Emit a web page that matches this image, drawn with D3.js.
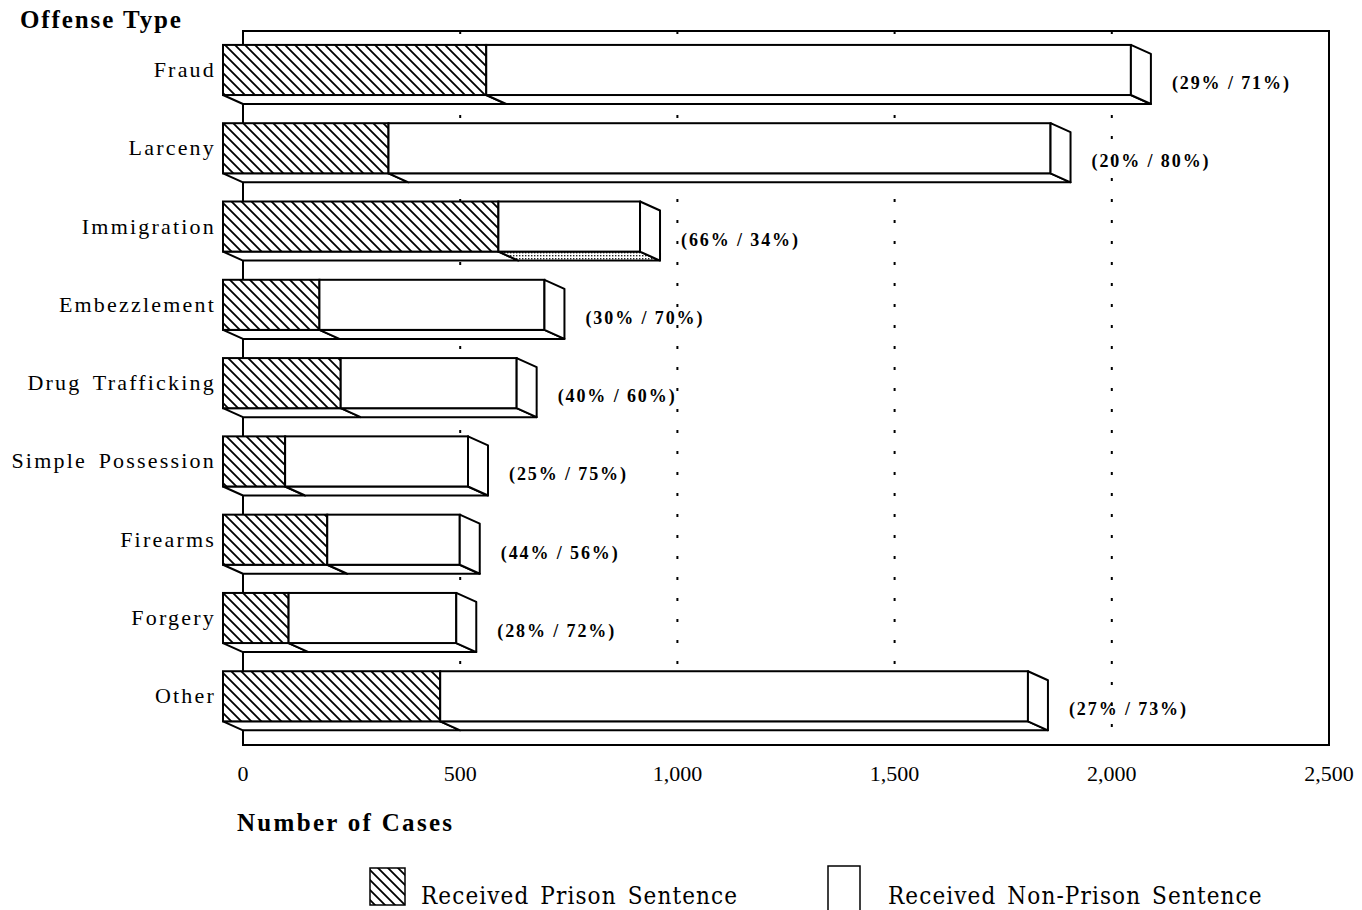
<!DOCTYPE html>
<html>
<head>
<meta charset="utf-8">
<script src="https://cdn.jsdelivr.net/npm/d3@7"></script>
<style>
  html, body { margin: 0; padding: 0; background: #fff; }
  svg { display: block; }
  text { font-family: "Liberation Serif", "Times New Roman", serif; fill: #000; }
</style>
</head>
<body>
<svg id="chart" width="1362" height="910"></svg>
<script>
// ---------------- data ----------------
const categories = ["Fraud", "Larceny", "Immigration", "Embezzlement", "Drug Trafficking",
                    "Simple Possession", "Firearms", "Forgery", "Other"];
const prisonCases    = [606, 381, 634, 222, 271, 143, 240, 151, 500];
const nonPrisonCases = [1484, 1524, 326, 518, 405, 421, 305, 386, 1353];
const shareLabels = ["(29% / 71%)", "(20% / 80%)", "(66% / 34%)", "(30% / 70%)", "(40% / 60%)",
                     "(25% / 75%)", "(44% / 56%)", "(28% / 72%)", "(27% / 73%)"];
const xTicks = [0, 500, 1000, 1500, 2000, 2500];
const seriesKeys = ["prison", "nonPrison"];
const seriesNames = ["Received Prison Sentence", "Received Non-Prison Sentence"];
const yTitle = "Offense Type";
const xTitle = "Number of Cases";

// ---------------- layout ----------------
const svg = d3.select("#chart");
const plot = { left: 243, right: 1329, top: 31, bottom: 745 };
const depth = { dx: 20, dy: 9 };

const x = d3.scaleLinear().domain([0, 2500]).range([plot.left, plot.right]);
const y = d3.scaleBand().domain(categories).range([plot.top, plot.bottom])
  .paddingInner(0.36).paddingOuter(0.24).align(0.61);
const bw = y.bandwidth();

const rows = categories.map((c, i) => ({ category: c, prison: prisonCases[i], nonPrison: nonPrisonCases[i], label: shareLabels[i] }));
const stacked = d3.stack().keys(seriesKeys)(rows);

// patterns
const defs = svg.append("defs");
const hatch = defs.append("pattern").attr("id", "hatch").attr("patternUnits", "userSpaceOnUse")
  .attr("width", 10).attr("height", 10);
hatch.append("rect").attr("width", 10).attr("height", 10).attr("fill", "#fff");
hatch.append("path").attr("d", "M-3,7 L3,13 M0,0 L10,10 M7,-3 L13,3")
  .attr("stroke", "#000").attr("stroke-width", 1.8);
const stipple = defs.append("pattern").attr("id", "stipple").attr("patternUnits", "userSpaceOnUse")
  .attr("width", 3).attr("height", 3);
stipple.append("rect").attr("width", 3).attr("height", 3).attr("fill", "#fff");
stipple.append("rect").attr("width", 1.4).attr("height", 1.4).attr("fill", "#222");
const stippleCategory = "Immigration";

// back wall
const wall = svg.append("g");
wall.append("path")
  .attr("d", `M${plot.left},${plot.bottom} L${plot.left},${plot.top} L${plot.right},${plot.top} L${plot.right},${plot.bottom} Z`)
  .attr("fill", "none").attr("stroke", "#000").attr("stroke-width", 2);

// dotted gridlines
wall.selectAll("line.grid").data(xTicks.filter(t => t > 0 && t < 2500)).enter().append("line")
  .attr("class", "grid")
  .attr("x1", d => x(d)).attr("x2", d => x(d))
  .attr("y1", plot.top).attr("y2", plot.bottom)
  .attr("stroke", "#000").attr("stroke-width", 2).attr("stroke-dasharray", "3,18");

// bars
const barG = svg.append("g");
const fillFor = key => key === "prison" ? "url(#hatch)" : "#fff";
stacked.forEach(series => {
  series.forEach(d => {
    const cat = d.data.category;
    const x0 = x(d[0]), x1 = x(d[1]);
    const yt = y(cat), yb = yt + bw;
    const bottomFill = (series.key === "nonPrison" && cat === stippleCategory) ? "url(#stipple)" : "#fff";
    barG.append("path")
      .attr("d", `M${x0 - depth.dx},${yb - depth.dy} L${x1 - depth.dx},${yb - depth.dy} L${x1},${yb} L${x0},${yb} Z`)
      .attr("fill", bottomFill).attr("stroke", "#000").attr("stroke-width", 2).attr("stroke-linejoin", "round");
    barG.append("rect")
      .attr("x", x0 - depth.dx).attr("y", yt - depth.dy)
      .attr("width", x1 - x0).attr("height", bw)
      .attr("fill", fillFor(series.key)).attr("stroke", "#000").attr("stroke-width", 2);
  });
});
rows.forEach(r => {
  const xr = x(r.prison + r.nonPrison);
  const yt = y(r.category), yb = yt + bw;
  barG.append("path")
    .attr("d", `M${xr - depth.dx},${yt - depth.dy} L${xr},${yt} L${xr},${yb} L${xr - depth.dx},${yb - depth.dy} Z`)
    .attr("fill", "#fff").attr("stroke", "#000").attr("stroke-width", 2).attr("stroke-linejoin", "round");
});

// category labels
svg.append("g").selectAll("text").data(rows).enter().append("text")
  .attr("x", x(0) - depth.dx - 7)
  .attr("y", d => y(d.category) - depth.dy + bw / 2 + 7)
  .attr("text-anchor", "end")
  .style("font-size", "22px").style("letter-spacing", "2.2px").style("word-spacing", "4px")
  .text(d => d.category);

// share labels
svg.append("g").selectAll("text").data(rows).enter().append("text")
  .attr("x", d => x(d.prison + d.nonPrison) + 21)
  .attr("y", d => y(d.category) - depth.dy + bw / 2 + 19)
  .style("font-size", "18px").style("font-weight", "bold").style("letter-spacing", "1.9px")
  .text(d => d.label);

// x axis tick labels
svg.append("g").selectAll("text").data(xTicks).enter().append("text")
  .attr("x", d => x(d)).attr("y", 781)
  .attr("text-anchor", "middle")
  .style("font-size", "22px")
  .text(d => d3.format(",")(d));

// titles
svg.append("text").attr("x", 20).attr("y", 28)
  .style("font-size", "25px").style("font-weight", "bold").style("letter-spacing", "1.9px")
  .text(yTitle);
svg.append("text").attr("x", 237).attr("y", 831)
  .style("font-size", "25px").style("font-weight", "bold").style("letter-spacing", "2.3px")
  .text(xTitle);

// legend
const legend = svg.append("g");
const legendItems = [
  { key: seriesKeys[0], name: seriesNames[0], bx: 370, by: 868, bw: 35, bh: 37, tx: 421 },
  { key: seriesKeys[1], name: seriesNames[1], bx: 828, by: 866, bw: 32, bh: 60, tx: 888 }
];
legendItems.forEach(it => {
  legend.append("rect").attr("x", it.bx).attr("y", it.by).attr("width", it.bw).attr("height", it.bh)
    .attr("fill", fillFor(it.key)).attr("stroke", "#000").attr("stroke-width", 1.5);
  legend.append("text").attr("x", it.tx).attr("y", 904)
    .style("font-family", "'DejaVu Serif', serif").style("font-stretch", "condensed")
    .style("font-size", "24px").style("letter-spacing", "1.1px").style("word-spacing", "3px")
    .text(it.name);
});
</script>
</body>
</html>
